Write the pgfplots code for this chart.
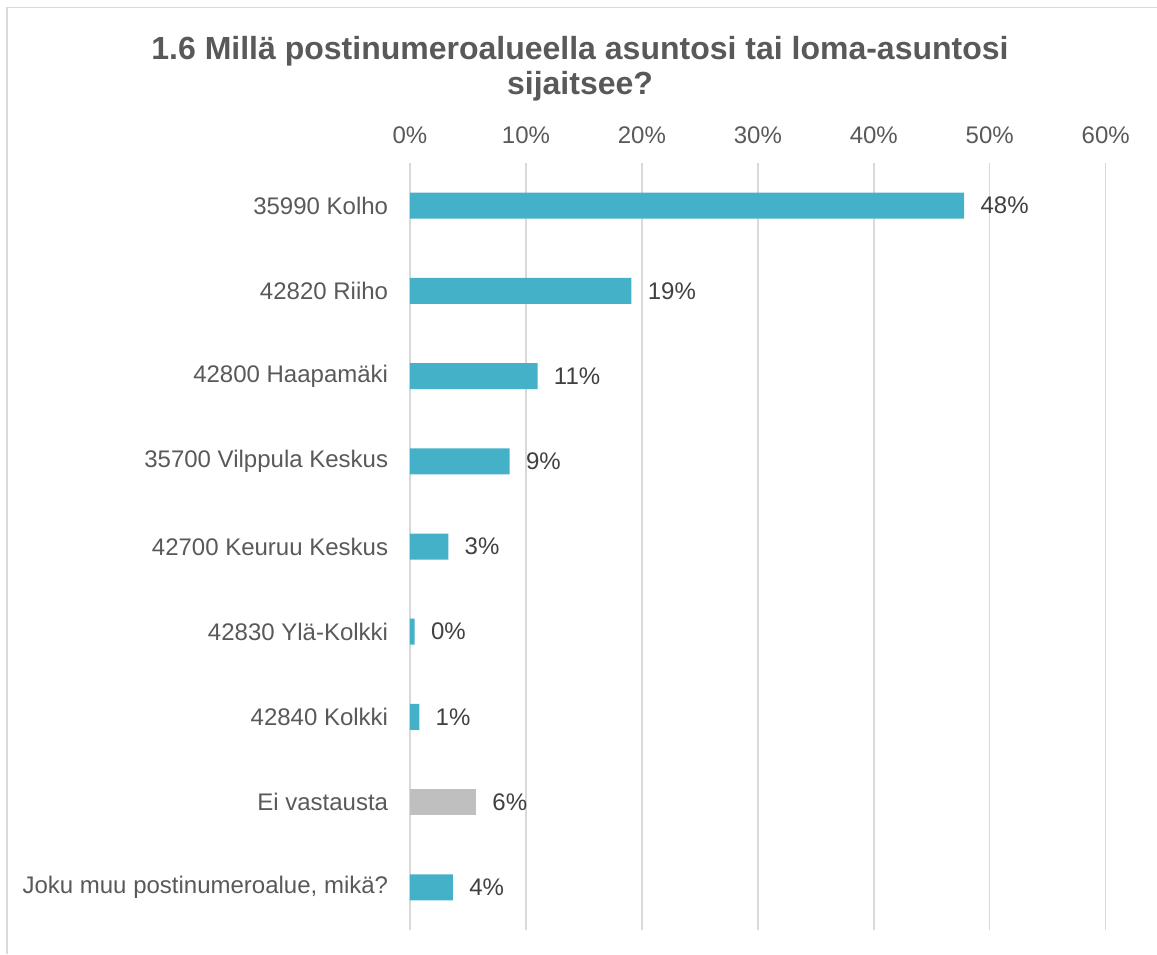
\documentclass[border=0pt]{standalone}
\usepackage{fontspec}
\setmainfont{Liberation Sans}
\usepackage{pgfplots}
\pgfplotsset{compat=1.18}
\definecolor{barblue}{RGB}{69,177,200}
\definecolor{bargray}{RGB}{191,191,191}
\definecolor{txt}{RGB}{89,89,89}
\definecolor{lbl}{RGB}{64,64,64}
\definecolor{gridc}{RGB}{217,217,217}
\begin{document}
\begin{tikzpicture}
\useasboundingbox (0,0) rectangle (578.5pt,477pt);
\draw[gridc, line width=0.7pt] (3.5pt,0) -- (3.5pt,473.3pt) -- (578.5pt,473.3pt);
\node[anchor=base, font=\fontsize{16}{19}\selectfont\bfseries, text=txt, inner sep=0pt] at (290pt,447.35pt) {1.6 Millä postinumeroalueella asuntosi tai loma-asuntosi};
\node[anchor=base, font=\fontsize{16}{19}\selectfont\bfseries, text=txt, inner sep=0pt] at (290pt,429.5pt) {sijaitsee?};
\begin{axis}[
  at={(205pt,12pt)}, anchor=south west,
  scale only axis, width=347.85pt, height=383.5pt,
  xbar, bar width=13pt, bar shift=0pt,
  xmin=0, xmax=60, ymin=-0.5, ymax=8.5, y dir=reverse,
  enlargelimits=false,
  axis line style={draw=none},
  major tick length=0pt,
  xmajorgrids, grid style={draw=gridc, line width=0.75pt},
  xtick={0,10,20,30,40,50,60},
  xticklabels={0\%,10\%,20\%,30\%,40\%,50\%,60\%},
  xticklabel pos=upper,
  xticklabel style={anchor=base, inner sep=0pt, yshift=9.8pt},
  ytick={0,1,2,3,4,5,6,7,8},
  yticklabels={35990 Kolho,42820 Riiho,42800 Haapamäki,35700 Vilppula Keskus,42700 Keuruu Keskus,42830 Ylä-Kolkki,42840 Kolkki,Ei vastausta,{Joku muu postinumeroalue, mikä?}},
  yticklabel style={anchor=east, inner sep=0pt, xshift=-10.75pt},
  ticklabel style={font=\fontsize{12}{14}\selectfont, text=txt},
  point meta=explicit symbolic,
  nodes near coords,
  nodes near coords style={anchor=west, inner sep=0pt, xshift=8pt, font=\fontsize{12}{14}\selectfont, text=lbl},
]
\addplot[fill=barblue, draw=none] coordinates {
  (47.8,0) [48\%]
  (19.1,1) [19\%]
  (11.0,2) [11\%]
  (8.6,3) [9\%]
  (3.3,4) [3\%]
  (0.4,5) [0\%]
  (0.8,6) [1\%]
  (3.7,8) [4\%]
};
\addplot[fill=bargray, draw=none] coordinates {
  (5.7,7) [6\%]
};
\end{axis}
\end{tikzpicture}
\end{document}
